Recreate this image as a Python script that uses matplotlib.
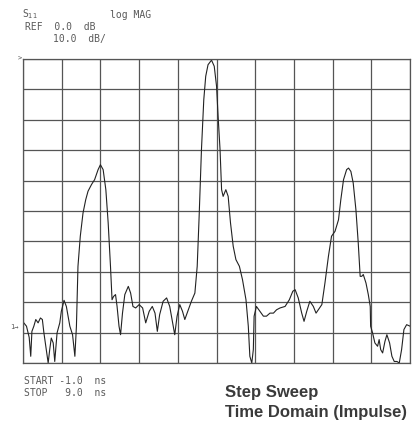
import matplotlib
matplotlib.use("Agg")
import matplotlib.pyplot as plt
import numpy as np

# Time axis (ns) and S11 log magnitude (dB)
time_ns = [-0.98, -0.91, -0.84, -0.80, -0.77, -0.72, -0.67, -0.61, -0.55, -0.50,
           -0.46, -0.40, -0.35, -0.31, -0.27, -0.22, -0.18, -0.12, -0.05, -0.01,
           0.06, 0.12, 0.21, 0.28, 0.34, 0.38, 0.42, 0.48, 0.55, 0.62,
           0.68, 0.77, 0.85, 0.94, 1.00, 1.07, 1.14, 1.20, 1.26, 1.30,
           1.34, 1.39, 1.43, 1.48, 1.52, 1.57, 1.63, 1.72, 1.78, 1.84,
           1.91, 2.00, 2.09, 2.17, 2.26, 2.34, 2.41, 2.47, 2.53, 2.62,
           2.71, 2.79, 2.88, 2.92, 2.98, 3.05, 3.12, 3.18, 3.24, 3.35,
           3.44, 3.50, 3.55, 3.61, 3.67, 3.72, 3.78, 3.87, 3.94, 4.00,
           4.04, 4.09, 4.13, 4.17, 4.24, 4.30, 4.36, 4.43, 4.50, 4.59,
           4.67, 4.76, 4.82, 4.86, 4.91, 4.95, 4.97, 5.03, 5.12, 5.21,
           5.29, 5.38, 5.47, 5.55, 5.64, 5.77, 5.88, 5.97, 6.03, 6.11,
           6.20, 6.26, 6.33, 6.41, 6.50, 6.57, 6.63, 6.72, 6.80, 6.89,
           6.97, 7.06, 7.15, 7.21, 7.28, 7.36, 7.41, 7.47, 7.53, 7.60,
           7.66, 7.71, 7.75, 7.79, 7.86, 7.92, 7.97, 7.98, 8.03, 8.09,
           8.16, 8.20, 8.24, 8.29, 8.35, 8.40, 8.47, 8.53, 8.59, 8.66,
           8.72, 8.78, 8.84, 8.91, 9.00]
s11_db = [-86.8, -87.9, -91.6, -97.8, -89.6, -87.9, -85.7, -86.8, -85.2, -85.7,
          -90.1, -95.6, -100.0, -95.6, -91.8, -93.4, -99.5, -90.1, -86.8, -83.0,
          -79.4, -81.4, -87.9, -90.7, -97.8, -87.9, -68.2, -58.3, -50.7, -46.3,
          -43.5, -41.3, -39.7, -36.4, -34.8, -36.4, -43.0, -53.9, -68.2, -79.2,
          -78.1, -77.5, -81.4, -87.9, -90.7, -83.6, -77.5, -74.8, -77.0, -81.4,
          -81.9, -80.8, -81.9, -86.8, -83.0, -81.4, -83.6, -89.6, -84.1, -79.7,
          -78.6, -81.4, -87.9, -90.7, -84.6, -80.8, -83.0, -85.7, -83.6, -79.7,
          -77.0, -68.2, -51.8, -29.8, -13.4, -5.7, -1.9, -0.4, -2.4, -9.0,
          -18.9, -29.8, -43.0, -45.2, -43.0, -45.2, -53.9, -61.6, -66.0, -68.2,
          -72.6, -79.2, -87.9, -97.8, -100.0, -95.6, -84.6, -81.4, -83.0, -84.6,
          -84.6, -83.6, -83.6, -82.5, -81.9, -81.4, -79.2, -76.4, -75.9, -78.6,
          -83.6, -86.3, -83.0, -79.7, -81.4, -83.6, -82.5, -80.8, -73.7, -64.9,
          -58.3, -56.7, -52.9, -46.3, -39.7, -36.4, -35.9, -37.0, -40.8, -49.6,
          -60.5, -71.5, -71.5, -70.9, -73.7, -77.5, -81.4, -87.9, -90.1, -93.4,
          -94.5, -92.3, -95.6, -96.7, -92.9, -90.7, -93.4, -97.8, -99.5, -99.5,
          -100.0, -95.6, -89.0, -87.4, -87.9]

x_start, x_stop = -1.0, 9.0
ref_db, scale_db = 0.0, 10.0
n_div = 10

fig = plt.figure(figsize=(4.13, 4.24), dpi=100)
fig.patch.set_facecolor("white")
ax = fig.add_axes([0.0557, 0.1439, 0.9373, 0.7171])
ax.set_xlim(x_start, x_stop)
ax.set_ylim(ref_db - n_div * scale_db, ref_db)
ax.set_xticks(np.linspace(x_start, x_stop, n_div + 1))
ax.set_yticks(np.linspace(ref_db - n_div * scale_db, ref_db, n_div + 1))
ax.tick_params(length=0, labelbottom=False, labelleft=False)
ax.grid(True, color="#555555", linewidth=0.9)
for s in ax.spines.values():
    s.set_color("#555555")
    s.set_linewidth(0.9)

ax.plot(time_ns, s11_db, color="#222222", linewidth=0.8, clip_on=False)

gray = "#5a5a5a"
mono = "DejaVu Sans Mono"
fs = 7
fig.text(22 / 413, 1 - 14 / 424, "S$_{11}$", fontsize=fs, family=mono, color=gray, va="center")
fig.text(110 / 413, 1 - 15 / 424, "log MAG", fontsize=fs, family=mono, color=gray, va="center")
fig.text(25 / 413, 1 - 27 / 424, "REF  0.0  dB", fontsize=fs, family=mono, color=gray, va="center")
fig.text(53 / 413, 1 - 39 / 424, "10.0  dB/", fontsize=fs, family=mono, color=gray, va="center")
fig.text(18 / 413, 1 - 58 / 424, ">", fontsize=5, family=mono, color=gray, va="center")
fig.text(10 / 413, 1 - 327 / 424, "1→", fontsize=5, family=mono, color=gray, va="center")
fig.text(24 / 413, 1 - 381 / 424, "START -1.0  ns", fontsize=fs, family=mono, color=gray, va="center")
fig.text(24 / 413, 1 - 393 / 424, "STOP   9.0  ns", fontsize=fs, family=mono, color=gray, va="center")
fig.text(225 / 413, 1 - 393 / 424, "Step Sweep", fontsize=12, family="Liberation Sans",
         fontweight="bold", color="#3a3a3a", va="center")
fig.text(225 / 413, 1 - 413 / 424, "Time Domain (Impulse)", fontsize=12, family="Liberation Sans",
         fontweight="bold", color="#3a3a3a", va="center")

fig.savefig("out.png", dpi=100, facecolor="white")
